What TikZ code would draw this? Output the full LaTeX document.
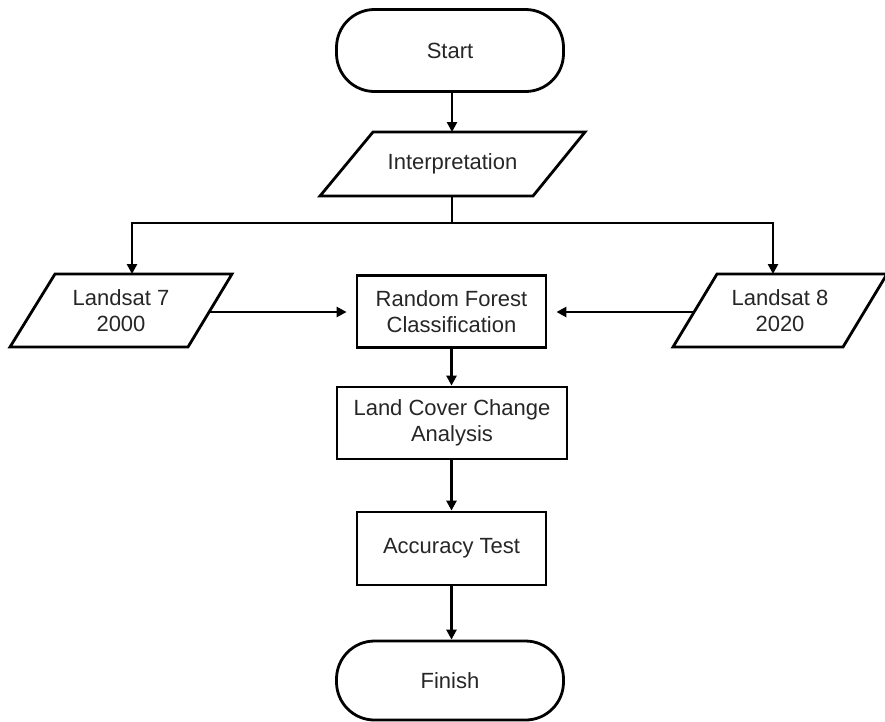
\documentclass[tikz,border=0pt]{standalone}
\usepackage{fontspec}
\setmainfont{Liberation Sans}
\usetikzlibrary{arrows.meta}
\definecolor{txt}{HTML}{262626}
\begin{document}
\begin{tikzpicture}[x=1pt,y=-1pt,line width=2.8pt,line join=miter,
  txtstyle/.style={font=\fontsize{22}{26}\selectfont,text=txt,align=center},
  box/.style={draw,txtstyle,minimum width=189pt,minimum height=72pt,inner sep=0pt},
  term/.style={box,rounded corners=38pt,minimum width=227pt,minimum height=82pt},
  lbl/.style={txtstyle,inner sep=0pt},
  arr/.style={-{Triangle[length=10pt,width=10pt]}},
  harr/.style={arr,shorten >=9pt}]
\useasboundingbox (0,0) rectangle (885,721);

% terminals and process boxes
\node[term] (start) at (450,50.5) {Start};
\node[box] (rf) at (451.5,311.5) {Random Forest\\Classification};
\node[box,minimum width=230pt] (lcca) at (452,423) {Land Cover Change\\Analysis};
\node[box,minimum height=73pt] (acc) at (451.5,548.5) {Accuracy Test};
\node[term,minimum height=79pt] (finish) at (450,680.5) {Finish};

% Interpretation parallelogram
\coordinate (i1) at (373,132); \coordinate (i2) at (585,132);
\coordinate (i3) at (533,196); \coordinate (i4) at (320,196);
\draw (i1) -- (i2) -- (i3) -- (i4) -- cycle;
\node[lbl] (interp) at (452.5,164) {Interpretation};
\coordinate (itop) at (452,132);
\coordinate (ibot) at (452,196);

% Landsat 7 parallelogram
\coordinate (a1) at (55,274); \coordinate (a2) at (232,274);
\coordinate (a3) at (188,347); \coordinate (a4) at (10,347);
\draw (a1) -- (a2) -- (a3) -- (a4) -- cycle;
\node[lbl] (l7) at (121,310.5) {Landsat 7\\2000};
\coordinate (l7top) at (132,274);
\coordinate (l7out) at (209,312);

% Landsat 8 parallelogram
\coordinate (b1) at (717,274); \coordinate (b2) at (887,274);
\coordinate (b3) at (843,347); \coordinate (b4) at (673,347);
\draw (b1) -- (b2) -- (b3) -- (b4) -- cycle;
\node[lbl] (l8) at (780,310.5) {Landsat 8\\2020};
\coordinate (l8top) at (773,274);
\coordinate (l8out) at (694,312);

% junction
\coordinate (jn) at (452,223);

% connectors
\draw[arr] (start.south -| itop) -- (itop);
\draw (ibot) -- (jn);
\draw[arr] (jn) -- (jn -| l7top) -- (l7top);
\draw[arr] (jn) -- (jn -| l8top) -- (l8top);
\draw[harr] (l7out) -- (l7out -| rf.west);
\draw[harr] (l8out) -- (l8out -| rf.east);
\draw[arr] (rf.south) -- (lcca.north -| rf.south);
\draw[arr] (lcca.south -| acc.north) -- (acc.north);
\draw[arr] (acc.south) -- (finish.north -| acc.south);
\end{tikzpicture}
\end{document}
